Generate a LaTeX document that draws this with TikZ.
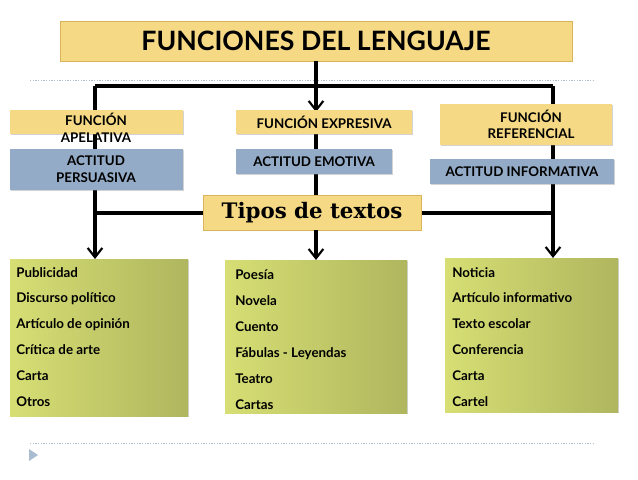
\documentclass[tikz,border=0pt]{standalone}
\usepackage{fontspec}
\setmainfont{Lato}
\newfontfamily\tiposfont{DejaVu Serif}
\usetikzlibrary{arrows.meta,shadows}
\newlength\px \setlength\px{0.75pt}
\definecolor{gold}{HTML}{F5D985}
\definecolor{golddk}{HTML}{D9B45A}
\definecolor{bluebx}{HTML}{93ABC6}
\definecolor{greenA}{HTML}{D6DE74}
\definecolor{greenB}{HTML}{AFB65E}
\definecolor{dotc}{HTML}{A9BCD0}
\tikzset{
  lbl/.style={font=\bfseries\fontsize{10}{11.5}\selectfont, align=center, inner sep=0pt},
  goldbox/.style={fill=gold, draw=golddk, line width=0.4pt, drop shadow={opacity=0.35,shadow xshift=1pt,shadow yshift=-1pt}},
  bluebox/.style={fill=bluebx, draw=none, drop shadow={opacity=0.35,shadow xshift=1pt,shadow yshift=-1pt}},
  greenbox/.style={left color=greenA, right color=greenB, draw=none, drop shadow={opacity=0.35,shadow xshift=1pt,shadow yshift=-1pt}},
  item/.style={font=\bfseries\fontsize{10}{11}\selectfont, anchor=base west, inner sep=0pt},
  conn/.style={line width=2.3pt},
  arr/.style={line width=2.3pt, -{Straight Barb[length=7pt,width=11pt,line width=1.6pt]}},
  dotline/.style={dotc, dash pattern=on 1pt off 1pt, line width=0.5pt}
}
\begin{document}
\begin{tikzpicture}[x=0.75pt,y=-0.75pt]
\useasboundingbox (0,0) rectangle (638,479);
\coordinate (tl) at (95,86);
\coordinate (tm) at (316,86);
\coordinate (tr) at (553,86);
\coordinate (ml) at (95,213);
\coordinate (mr) at (553,213);
\coordinate (m1) at (316,112);
\coordinate (bl) at (95,259);
\coordinate (bm) at (316,260);
\coordinate (br) at (553,258);
\coordinate (d1) at (30,80); \coordinate (d2) at (595,80);
\coordinate (d3) at (30,443); \coordinate (d4) at (595,443);
\draw[dotline] (d1) -- (d2);
\draw[dotline] (d3) -- (d4);
\fill[dotc] (29,449) -- (38,455) -- (29,461) -- cycle;
\node[goldbox, minimum width=512\px, minimum height=40\px, inner sep=0pt] (title) at (316,41)
  {\bfseries\fontsize{20}{22}\selectfont FUNCIONES DEL LENGUAJE};
\draw[conn] (title.south) -- (tm);
\draw[conn] (tl) -- (tr);
\draw[arr] (tm) -- (m1);
\draw[conn] (tl) -- (ml);
\draw[conn] (tr) -- (mr);
\draw[conn] (ml) -- (mr);
\draw[arr] (ml) -- (bl);
\draw[arr] (mr) -- (br);
\draw[conn] (m1) -- (316,196);
\node[goldbox, draw=none, minimum width=173\px, minimum height=24\px, inner sep=0pt] (fa) at (96.5,122) {};
\node[lbl] at (96,128) {FUNCIÓN\\[1pt]APELATIVA};
\node[bluebox, minimum width=173\px, minimum height=41\px, inner sep=0pt] (aa) at (96.5,169.5) {};
\node[lbl] at (96,169.5) {ACTITUD\\[1pt]PERSUASIVA};
\node[goldbox, draw=none, minimum width=176\px, minimum height=24\px, inner sep=0pt] (fe) at (324,122) {\bfseries\fontsize{10}{11.5}\selectfont FUNCIÓN EXPRESIVA};
\node[bluebox, minimum width=156\px, minimum height=25\px, inner sep=0pt] (ae) at (314,161.5) {\bfseries\fontsize{10}{11.5}\selectfont ACTITUD EMOTIVA};
\node[goldbox, draw=none, minimum width=172\px, minimum height=41\px, inner sep=0pt] (fr) at (526,124.5) {};
\node[lbl] at (531,124.5) {FUNCIÓN\\[1pt]REFERENCIAL};
\node[bluebox, minimum width=184\px, minimum height=25\px, inner sep=0pt] (ar) at (522,171.5) {\bfseries\fontsize{10}{11.5}\selectfont ACTITUD INFORMATIVA};
\node[goldbox, minimum width=218\px, minimum height=35\px, inner sep=0pt] (tipos) at (312,212.5)
  {\tiposfont\bfseries\fontsize{16}{18}\selectfont Tipos de textos};
\draw[arr] (tipos.south -| bm) -- (bm);
\node[greenbox, minimum width=178\px, minimum height=157\px, inner sep=0pt] (gl) at (99,337.5) {};
\node[greenbox, minimum width=182\px, minimum height=153\px, inner sep=0pt] (gm) at (316,336.5) {};
\node[greenbox, minimum width=173\px, minimum height=154\px, inner sep=0pt] (gr) at (531.5,335) {};
\node[item] (l1) at (16,277) {Publicidad};
\node[item] (l2) at (16,302) {Discurso político};
\node[item] (l3) at (16,328) {Artículo de opinión};
\node[item] (l4) at (16,354) {Crítica de arte};
\node[item] (l5) at (16,380) {Carta};
\node[item] (l6) at (16,406) {Otros};
\node[item] (m1t) at (235,279) {Poesía};
\node[item] (m2t) at (235,305) {Novela};
\node[item] (m3t) at (235,331) {Cuento};
\node[item] (m4t) at (235,357) {Fábulas - Leyendas};
\node[item] (m5t) at (235,383) {Teatro};
\node[item] (m6t) at (235,409) {Cartas};
\node[item] (r1) at (452,277) {Noticia};
\node[item] (r2) at (452,302) {Artículo informativo};
\node[item] (r3) at (452,328) {Texto escolar};
\node[item] (r4) at (452,354) {Conferencia};
\node[item] (r5) at (452,380) {Carta};
\node[item] (r6) at (452,406) {Cartel};
\end{tikzpicture}
\end{document}
